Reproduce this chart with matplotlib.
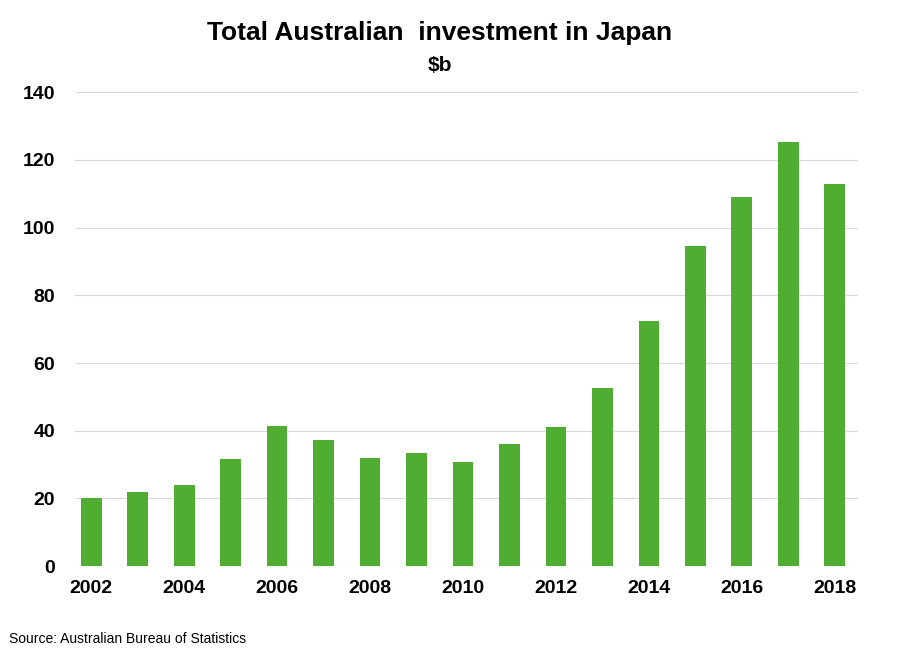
import matplotlib
matplotlib.use("Agg")
import matplotlib.pyplot as plt

years = list(range(2002, 2019))
values = [20.1, 21.9, 23.9, 31.6, 41.3, 37.2, 31.9, 33.4, 30.7, 36.0, 41.0,
          52.6, 72.4, 94.5, 109.0, 125.2, 112.8]
xticks = [2002, 2004, 2006, 2008, 2010, 2012, 2014, 2016, 2018]
yticks = [0, 20, 40, 60, 80, 100, 120, 140]

plt.rcParams["font.family"] = "Liberation Sans"
plt.rcParams["font.weight"] = "bold"

fig = plt.figure(figsize=(9.12, 6.59), dpi=100)
ax = fig.add_axes([0.082, 0.141, 0.859, 0.719])
ax.bar(years, values, width=0.45, color="#4fad32", zorder=3)
ax.set_xlim(2001.65, 2018.5)
ax.set_ylim(0, 140)
ax.set_xticks(xticks)
ax.set_yticks(yticks)
ax.tick_params(length=0, labelsize=14, pad=10)
ax.tick_params(axis="y", pad=14)
for lab in ax.get_xticklabels() + ax.get_yticklabels():
    lab.set_fontweight("bold")
ax.grid(axis="y", color="#d9d9d9", linewidth=0.8, zorder=0)
for s in ax.spines.values():
    s.set_visible(False)

fig.text(0.482, 0.95, "Total Australian  investment in Japan", ha="center",
         va="center", fontsize=19, fontweight="bold")
fig.text(0.482, 0.9, "$b", ha="center", va="center", fontsize=15, fontweight="bold")
fig.text(0.01, 0.025, "Source: Australian Bureau of Statistics", fontsize=10,
         fontweight="normal")

fig.savefig("out.png", dpi=100)
